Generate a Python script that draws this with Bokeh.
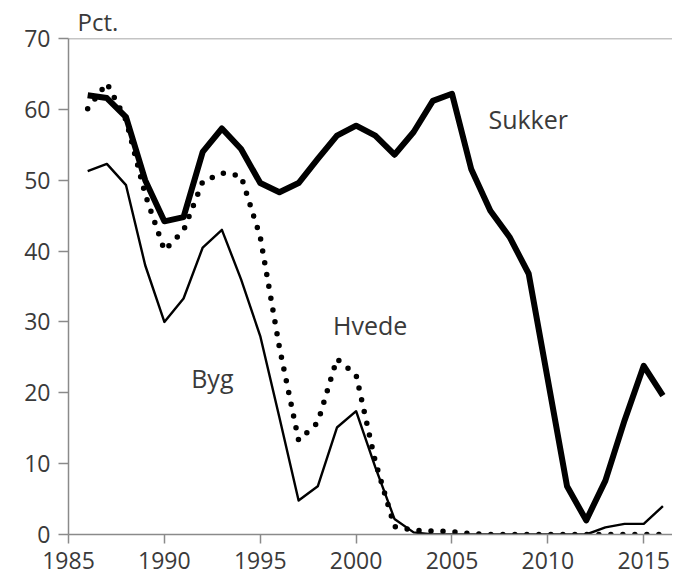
from bokeh.plotting import figure
from bokeh.models import Range1d, Span, Label, FixedTicker, ColumnDataSource
from bokeh.embed import file_html
from bokeh.resources import INLINE

years = list(range(1986, 2017))
sukker = [62.0, 61.6, 58.9, 50.0, 44.2, 44.8, 54.0, 57.3, 54.4, 49.6,
          48.3, 49.6, 53.0, 56.3, 57.7, 56.3, 53.6, 56.8, 61.2, 62.2,
          51.6, 45.7, 42.0, 36.8, 21.8, 6.8, 2.0, 7.6, 16.1, 23.8, 19.6]
byg = [51.3, 52.3, 49.3, 38.0, 30.0, 33.3, 40.5, 43.0, 36.0, 28.0,
       16.5, 4.8, 6.8, 15.1, 17.4, 9.5, 2.2, 0.3, 0.0, 0.0,
       0.0, 0.0, 0.0, 0.0, 0.0, 0.0, 0.0, 1.0, 1.5, 1.5, 4.0]
hvede = [60.1, 63.7, 58.5, 48.0, 40.1, 42.9, 49.8, 51.0, 50.6, 42.0,
         26.4, 13.3, 15.8, 24.8, 22.5, 10.3, 1.1, 0.6, 0.5, 0.4,
         0.1, 0.0, 0.0, 0.0, 0.0, 0.0, 0.0, 0.0, 0.0, 0.0, 0.0]
x_ticks = [1985, 1990, 1995, 2000, 2005, 2010, 2015]
y_ticks = [0, 10, 20, 30, 40, 50, 60, 70]

FONT = "Open Sans"
TXT = "#3a3a3a"
AX = "#8a8a8a"

src = ColumnDataSource(dict(year=years, sukker=sukker, byg=byg, hvede=hvede))

p = figure(frame_width=604, frame_height=496, output_backend="svg", toolbar_location=None,
           x_range=Range1d(1985, 2016.5), y_range=Range1d(0, 70),
           min_border_left=68, min_border_top=38, min_border_bottom=45,
           min_border_right=0)
p.xgrid.visible = False
p.ygrid.visible = False
p.outline_line_color = None
p.background_fill_color = "white"
p.border_fill_color = "white"

p.line("year", "byg", source=src, line_color="black", line_width=2.4,
       line_join="round")
p.line("year", "hvede", source=src, line_color="black", line_width=5.5,
       line_dash="0 12", line_cap="round", line_join="round")
p.line("year", "sukker", source=src, line_color="black", line_width=6,
       line_join="round")

p.add_layout(Span(location=70, dimension="width", line_color=AX, line_width=1.5))

for ax in (p.xaxis[0], p.yaxis[0]):
    ax.axis_line_color = AX
    ax.axis_line_width = 1.5
    ax.major_tick_line_color = AX
    ax.major_tick_line_width = 1.5
    ax.major_tick_in = 0
    ax.minor_tick_line_color = None
    ax.major_label_text_font = FONT
    ax.major_label_text_font_size = "23px"
    ax.major_label_text_color = TXT

p.xaxis.ticker = FixedTicker(ticks=x_ticks)
p.yaxis.ticker = FixedTicker(ticks=y_ticks)
p.xaxis.major_tick_out = 9
p.yaxis.major_tick_out = 10
p.xaxis.major_label_standoff = 8
p.yaxis.major_label_standoff = 8

p.title.text = "Pct."
p.title.text_font = FONT
p.title.text_font_size = "24px"
p.title.text_font_style = "normal"
p.title.text_color = TXT
p.title.align = "left"
p.title.offset = 9
p.title.standoff = 2

def lab(x, y, t):
    p.add_layout(Label(x=x, y=y, text=t, text_font=FONT, text_font_size="25px",
                       text_color=TXT, text_baseline="alphabetic", text_align="left"))

lab(2006.9, 58.6, "Sukker")
lab(1998.8, 29.5, "Hvede")
lab(1991.4, 22.1, "Byg")

open("out.html", "w").write(file_html(p, INLINE))
